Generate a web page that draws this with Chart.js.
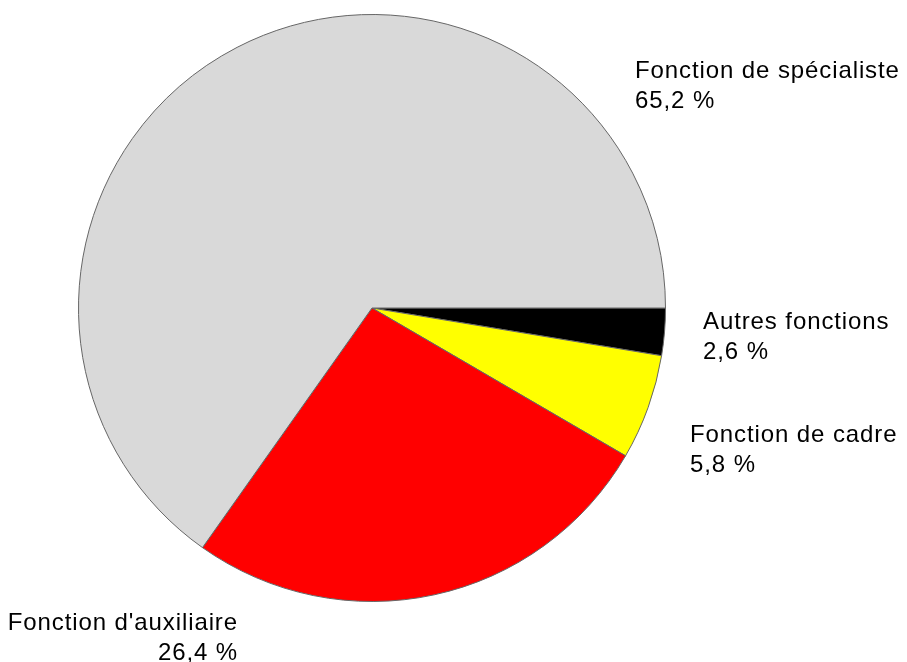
<!DOCTYPE html>
<html>
<head>
<meta charset="utf-8">
<script src="https://cdn.jsdelivr.net/npm/chart.js@4"></script>
<style>
  html, body { margin: 0; padding: 0; background: #fff; }
  #wrap { width: 907px; height: 662px; }
</style>
</head>
<body>
<div id="wrap"><canvas id="pie"></canvas></div>
<script>
// slices, clockwise from 3 o'clock
let categories = ['Autres fonctions', 'Fonction de cadre', "Fonction d'auxiliaire", 'Fonction de spécialiste'];
let shares = [2.6, 5.8, 26.4, 65.2];
let colors = ['#000000', '#ffff00', '#ff0000', '#d9d9d9'];

// where each label sits, relative to the pie centre (px), and its alignment
let labelSpots = [
    {dx: 331, dy: 21, align: 'left'},
    {dx: 318, dy: 134, align: 'left'},
    {dx: -134, dy: 322, align: 'right'},
    {dx: 263, dy: -230, align: 'left'}
];

function pct(v) {
    return v.toFixed(1).replace('.', ',') + ' %';
}

let outsideLabels = {
    id: 'outsideLabels',
    afterDatasetsDraw(chart) {
        let ctx = chart.ctx;
        let arcs = chart.getDatasetMeta(0).data;
        let cx = arcs[0].x, cy = arcs[0].y;
        ctx.save();
        ctx.font = '24px "Liberation Sans", Arial, sans-serif';
        if ('letterSpacing' in ctx) ctx.letterSpacing = '0.9px';
        ctx.fillStyle = '#000';
        ctx.textBaseline = 'alphabetic';
        for (let i = 0; i < categories.length; i++) {
            let s = labelSpots[i];
            ctx.textAlign = s.align;
            ctx.fillText(categories[i], cx + s.dx, cy + s.dy);
            ctx.fillText(pct(shares[i]), cx + s.dx, cy + s.dy + 30);
        }
        ctx.restore();
    }
};

let config_pie = {
    type: 'pie',
    data: {
        labels: categories,
        datasets: [{
            data: shares,
            backgroundColor: colors,
            borderColor: '#666666',
            borderWidth: 1
        }]
    },
    options: {
        responsive: true,
        maintainAspectRatio: false,
        animation: false,
        rotation: 90,
        layout: {
            padding: {left: 78, right: 241, top: 14, bottom: 60}
        },
        plugins: {
            legend: {display: false},
            tooltip: {enabled: false}
        }
    },
    plugins: [outsideLabels]
};

let pieChart = new Chart(document.getElementById('pie'), config_pie);
</script>
</body>
</html>
